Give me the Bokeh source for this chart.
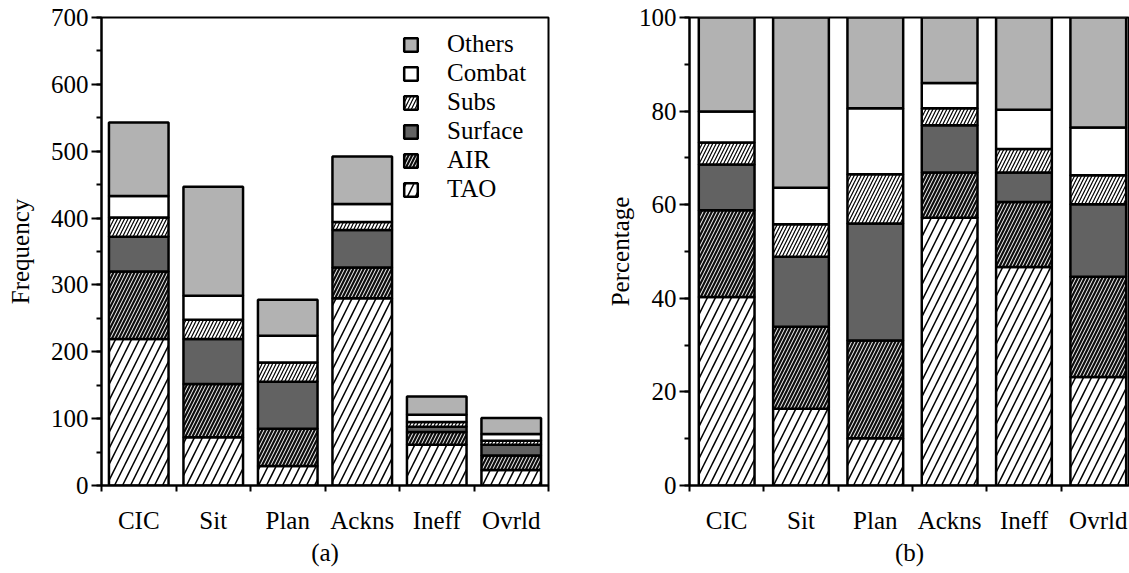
from bokeh.plotting import figure
from bokeh.models import FixedTicker, SingleIntervalTicker, Legend, LegendItem, Range1d
from bokeh.layouts import row
from bokeh.embed import file_html
from bokeh.resources import INLINE

categories = ["CIC", "Sit", "Plan", "Ackns", "Ineff", "Ovrld"]
series = ["TAO", "AIR", "Surface", "Subs", "Combat", "Others"]

# (a) Frequency
freq_TAO = [219, 72, 29, 280, 61, 23]
freq_AIR = [101, 80, 56, 46, 19, 22]
freq_Surface = [52, 67, 70, 56, 8, 16]
freq_Subs = [29, 29, 29, 12, 7, 6]
freq_Combat = [32, 36, 40, 27, 11, 10]
freq_Others = [110, 163, 54, 71, 27, 24]

# (b) Percentage
pct_TAO = [40.3, 16.4, 10.1, 57.2, 46.7, 23.2]
pct_AIR = [18.5, 17.5, 20.9, 9.7, 13.9, 21.4]
pct_Surface = [9.8, 15.0, 25.0, 10.1, 6.3, 15.5]
pct_Subs = [4.7, 6.9, 10.5, 3.6, 5.0, 6.2]
pct_Combat = [6.6, 7.8, 14.1, 5.4, 8.4, 10.2]
pct_Others = [20.1, 36.4, 19.4, 14.0, 19.7, 23.5]

FONT = "'Liberation Serif', 'Times New Roman', serif"
FS = "25px"

styles = {
    "TAO": dict(fill_color="white", hatch_pattern="/", hatch_color="black", hatch_scale=16, hatch_weight=1.5),
    "AIR": dict(fill_color="#0d0d0d", hatch_pattern="/", hatch_color="white", hatch_scale=7, hatch_weight=1.0),
    "Surface": dict(fill_color="#626262"),
    "Subs": dict(fill_color="white", hatch_pattern="/", hatch_color="black", hatch_scale=7, hatch_weight=1.2),
    "Combat": dict(fill_color="white"),
    "Others": dict(fill_color="#b2b2b2"),
}


def make_fig(data, width, height, ymax, major, minor_n, ylabel, xlabel, bar_w, xend,
             bl, br):
    p = figure(width=width, height=height, output_backend="svg", toolbar_location=None,
               x_range=Range1d(0, xend), y_range=Range1d(0, ymax),
               min_border_left=bl, min_border_right=br, min_border_top=17, min_border_bottom=88)
    p.xgrid.visible = False
    p.ygrid.visible = False
    p.outline_line_color = "black"
    p.outline_line_width = 2
    xs = [i + 0.5 for i in range(len(categories))]
    bottom = [0.0] * len(categories)
    renderers = {}
    for name, vals in zip(series, data):
        top = [b + v for b, v in zip(bottom, vals)]
        r = p.vbar(x=xs, bottom=bottom, top=top, width=bar_w, line_color="black",
                   line_width=2.5, **styles[name])
        renderers[name] = r
        bottom = top
    # x axis
    xa = p.xaxis[0]
    xa.ticker = FixedTicker(ticks=xs, minor_ticks=list(range(len(categories) + 1)))
    xa.major_label_overrides = {x: c for x, c in zip(xs, categories)}
    xa.major_tick_out = 0
    xa.major_tick_in = 0
    xa.minor_tick_out = 6
    xa.minor_tick_in = 0
    xa.minor_tick_line_width = 2
    xa.axis_line_width = 2
    xa.major_label_standoff = 15
    xa.axis_label = xlabel
    xa.axis_label_standoff = 2
    # y axis
    ya = p.yaxis[0]
    ya.ticker = SingleIntervalTicker(interval=major, num_minor_ticks=minor_n)
    ya.major_tick_out = 10
    ya.major_tick_in = 0
    ya.minor_tick_out = 5
    ya.minor_tick_in = 0
    ya.major_tick_line_width = 2
    ya.minor_tick_line_width = 2
    ya.axis_line_width = 2
    ya.major_label_standoff = 3
    ya.axis_label = ylabel
    for ax in (xa, ya):
        ax.major_label_text_font = FONT
        ax.major_label_text_font_size = FS
        ax.major_label_text_color = "black"
        ax.axis_label_text_font = FONT
        ax.axis_label_text_font_size = FS
        ax.axis_label_text_font_style = "normal"
        ax.axis_label_text_color = "black"
        ax.axis_line_color = "black"
    return p, renderers


freq = [freq_TAO, freq_AIR, freq_Surface, freq_Subs, freq_Combat, freq_Others]
pct = [pct_TAO, pct_AIR, pct_Surface, pct_Subs, pct_Combat, pct_Others]

p1, rend = make_fig(freq, 603, 573, 700, 100, 2, "Frequency", "(a)", 0.8, 6, 101, 55)
p1.yaxis[0].axis_label_standoff = 14
p2, _ = make_fig(pct, 526, 573, 100, 20, 2, "Percentage", "(b)", 0.75, 5.92, 85, 0)
p2.yaxis[0].axis_label_standoff = 2

legend = Legend(
    items=[LegendItem(label=s, renderers=[rend[s]]) for s in reversed(series)],
    location=(301, 282),
    orientation="vertical",
    glyph_width=17, glyph_height=17,
    label_standoff=28, spacing=1, padding=0, margin=0,
    label_text_font=FONT, label_text_font_size=FS, label_text_color="black",
    border_line_color=None, background_fill_alpha=0,
)
p1.add_layout(legend)

layout = row(p1, p2)
open("out.html", "w").write(file_html(layout, INLINE))
